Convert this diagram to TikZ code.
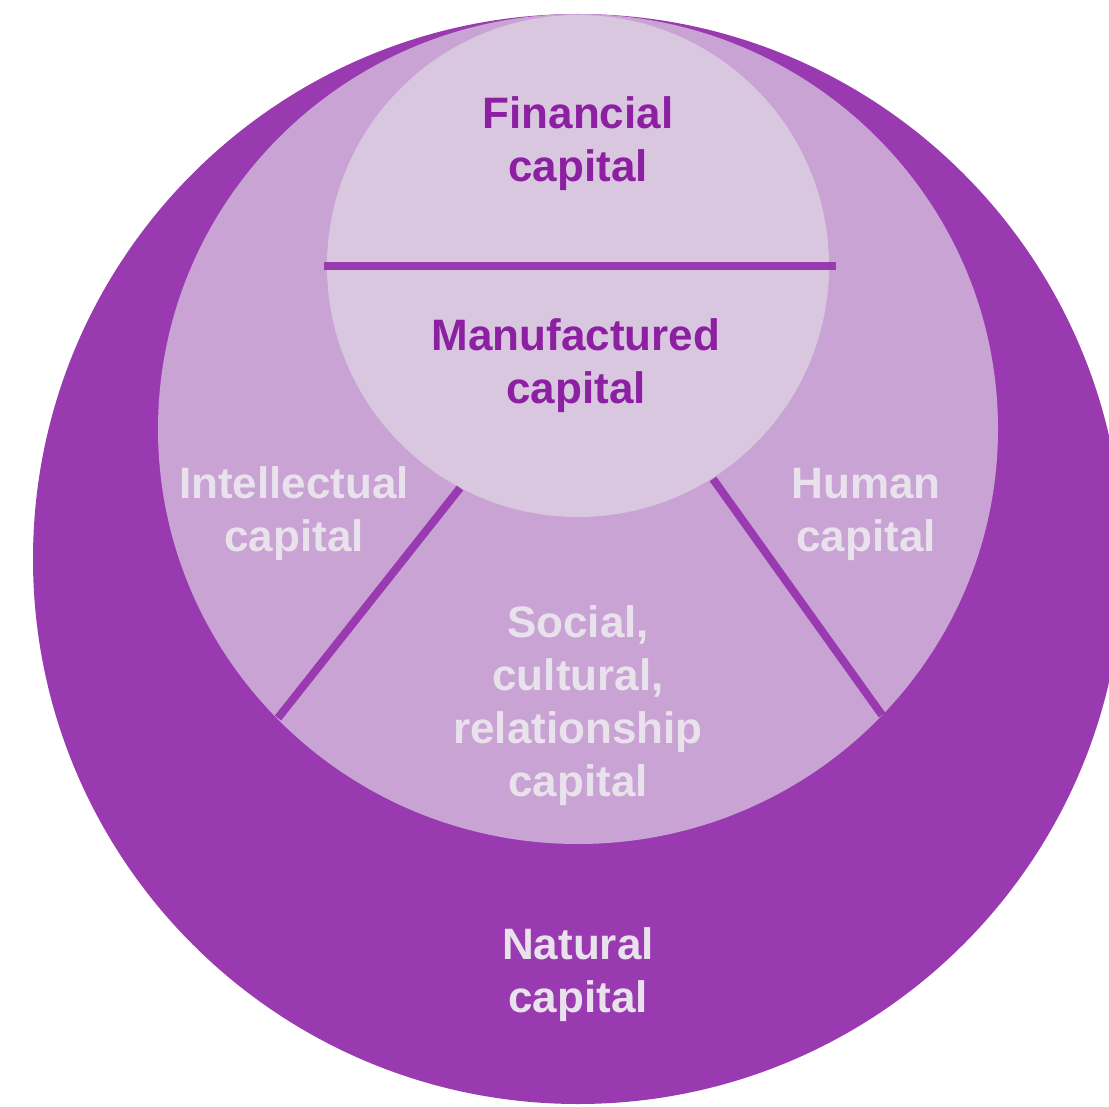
\documentclass[tikz,border=0pt]{standalone}
\usepackage{fontspec}
\setmainfont{Liberation Sans}
\usetikzlibrary{positioning}
\definecolor{natpurple}{HTML}{993AB0}
\definecolor{midlilac}{HTML}{C8A3D3}
\definecolor{innlilac}{HTML}{D9C7E0}
\definecolor{darktext}{HTML}{8C1FA2}
\definecolor{paletext}{HTML}{E9E2EC}

\begin{document}
\begin{tikzpicture}[
    x=1pt, y=-1pt,
    capname/.style={align=center, inner sep=0pt, font=\fontsize{44}{53}\selectfont\bfseries},
    divider/.style={natpurple, line width=8pt}
  ]
  \useasboundingbox (0,0) rectangle (1109,1107);

  %% Rings
  \fill[natpurple] (578,559) circle [radius=545pt];
  \fill[midlilac]  (578,429) ellipse [x radius=420pt, y radius=415pt];
  \fill[innlilac]  (578,266) circle [radius=251pt];

  %% Divider end points
  \coordinate (finl)  at (324,266);
  \coordinate (finr)  at (836,266);
  \coordinate (intin) at (460,488);
  \coordinate (intout) at (278,718);
  \coordinate (humin) at (713,479);
  \coordinate (humout) at (882,715);

  %% Dividers
  \draw[divider] (finl) -- (finr);
  \draw[divider] (intin) -- (intout);
  \draw[divider] (humin) -- (humout);

  %% Capital names
  \node[capname, text=darktext] (fin)  at (578,144) {Financial\\capital};
  \node[capname, text=darktext] (manu) at (576,366) {Manufactured\\capital};
  \node[capname, text=paletext] (intel) at (294,514) {Intellectual\\capital};
  \node[capname, text=paletext] (human) at (866,514) {Human\\capital};
  \node[capname, text=paletext] (social) at (578,706) {Social,\\cultural,\\relationship\\capital};
  \node[capname, text=paletext] (natural) at (578,975) {Natural\\capital};

\end{tikzpicture}
\end{document}
